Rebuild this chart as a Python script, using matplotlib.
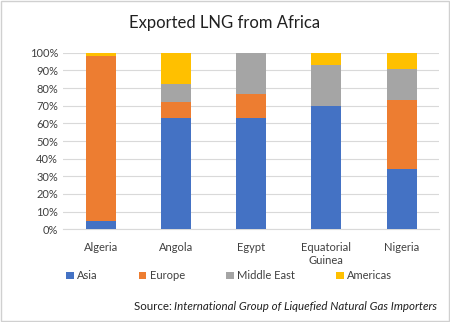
import matplotlib.pyplot as plt
import numpy as np
from matplotlib.patches import Rectangle

countries = ['Algeria', 'Angola', 'Egypt', 'Equatorial\nGuinea', 'Nigeria']
regions = ['Asia', 'Europe', 'Middle East', 'Americas']
asia = [4.5, 63.2, 63.2, 69.6, 34.0]
europe = [93.8, 8.9, 13.4, 0.0, 39.2]
middle_east = [0.0, 10.0, 23.4, 23.4, 17.4]
americas = [1.7, 17.9, 0.0, 7.0, 9.4]
colors = ['#4472C4', '#ED7D31', '#A5A5A5', '#FFC000']

plt.rcParams['font.family'] = ['Lato', 'DejaVu Sans']

fig = plt.figure(figsize=(4.5, 3.22), dpi=100)
ax = fig.add_axes([0.14, 0.288, 0.836, 0.548])

x = np.arange(len(countries))
bottom = np.zeros(len(countries))
for name, vals, c in zip(regions, [asia, europe, middle_east, americas], colors):
    ax.bar(x, vals, 0.4, bottom=bottom, color=c, label=name, zorder=3)
    bottom += np.array(vals)

ax.set_ylim(0, 100)
ax.set_xlim(-0.5, len(countries) - 0.5)
ax.set_yticks(np.arange(0, 101, 10))
ax.set_yticklabels([f'{v}%' for v in range(0, 101, 10)])
ax.set_xticks(x)
ax.set_xticklabels(countries)
ax.tick_params(length=0, labelsize=8, colors='#404040')
ax.tick_params(axis='x', pad=9)
ax.grid(axis='y', color='#D9D9D9', linewidth=0.8, zorder=0)
for s in ['top', 'right', 'left']:
    ax.spines[s].set_visible(False)
ax.spines['bottom'].set_color('#D9D9D9')

fig.text(0.5, 0.929, 'Exported LNG from Africa', ha='center', va='center',
         fontsize=12, color='#202020')
fig.legend(loc='center', bbox_to_anchor=(0.509, 0.143), ncol=4, frameon=False,
           fontsize=8, handlelength=0.7, handleheight=0.7, handletextpad=0.3,
           columnspacing=3.7, labelcolor='#404040')
t = fig.text(0.972, 0.047, 'International Group of Liquefied Natural Gas Importers',
             ha='right', va='center', fontsize=8.3, style='italic', color='#202020')
fig.canvas.draw()
bb = t.get_window_extent().transformed(fig.transFigure.inverted())
fig.text(bb.x0, 0.047, 'Source: ', ha='right', va='center', fontsize=8.3, color='#202020')

fig.patches.append(Rectangle((0.002, 0.003), 0.995, 0.993, transform=fig.transFigure,
                             fill=False, edgecolor='#D0D0D0', linewidth=1))

fig.savefig('out.png', dpi=100)
